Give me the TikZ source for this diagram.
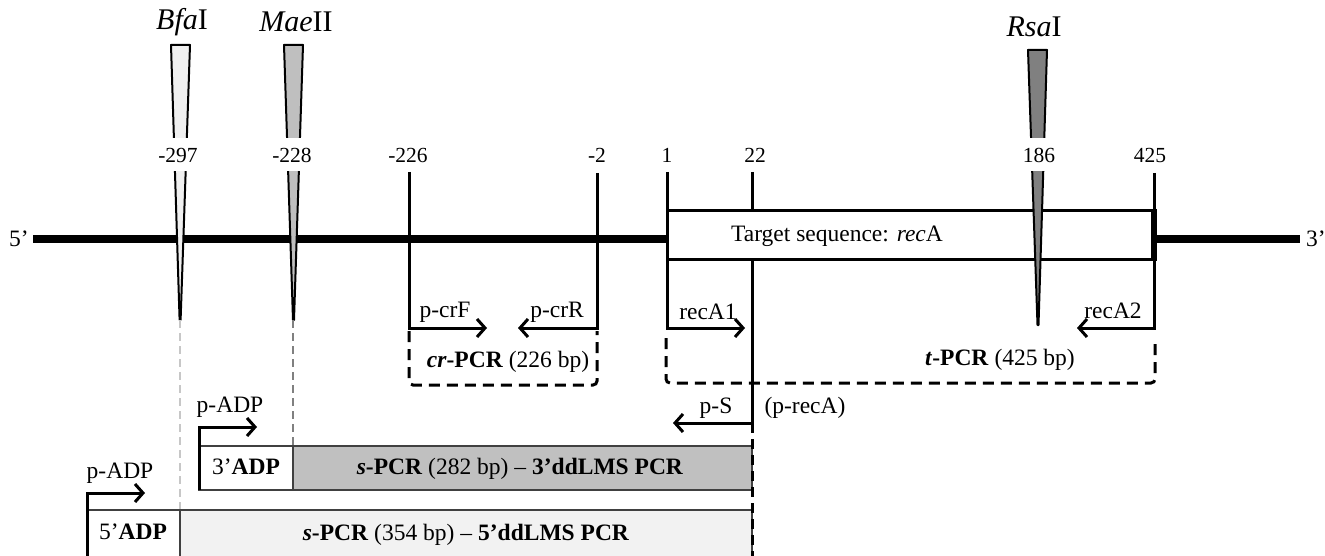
\documentclass[tikz,border=0pt]{standalone}
\usepackage{fontspec}
\setmainfont{Liberation Serif}
\usetikzlibrary{arrows.meta}
\definecolor{bfa}{HTML}{F0F0F0}
\definecolor{mae}{HTML}{BFBFBF}
\definecolor{rsa}{HTML}{808080}
\definecolor{spcrA}{HTML}{C0C0C0}
\definecolor{spcrB}{HTML}{F2F2F2}
\definecolor{boxline}{HTML}{404040}
\begin{document}
\begin{tikzpicture}[x=1pt,y=-1pt,
 dna/.style={line width=8pt},
 tick/.style={line width=3pt},
 wedge/.style={line width=2pt, line join=round},
 prim/.style={line width=3pt, -{Straight Barb[length=8pt,width=18pt]}},
 pcrbox/.style={line width=3pt, dash pattern=on 11pt off 7pt, rounded corners=4pt},
 lbl/.style={font=\fontsize{23.5}{26}\selectfont, inner sep=0pt},
 num/.style={font=\fontsize{21.5}{24}\selectfont, fill=white, inner xsep=2pt, inner ysep=0pt, minimum height=33pt},
 enz/.style={font=\fontsize{30}{33}\selectfont, inner sep=0pt},
 sbox/.style={draw=boxline, line width=1.5pt},
 guide/.style={line width=2pt, dash pattern=on 8pt off 5pt},
]
\useasboundingbox (0,0) rectangle (1325,556);

% DNA strand
\coordinate (d5) at (33,239);
\coordinate (d3) at (1300,239);
\draw[dna] (d5) -- (d3);
\node[lbl, anchor=east] (five) at (29,239) {5’};
\node[lbl, anchor=west] (three) at (1306,239) {3’};

% position ticks with primers
\coordinate (t226) at (409,172);
\coordinate (t2) at (597,173);
\coordinate (t1) at (667,172);
\coordinate (t22) at (752,172);
\coordinate (t425) at (1154,173);
\coordinate (crFend) at (487,328);
\coordinate (crRend) at (518,328);
\coordinate (rA1end) at (745,328);
\coordinate (rA2end) at (1077,328);
\coordinate (pSend) at (673,423);
\draw[prim] (t226) -- (409,328) -- (crFend);
\draw[prim] (t2) -- (597,328) -- (crRend);
\draw[prim] (t1) -- (667,328) -- (rA1end);
\draw[prim] (t425) -- (1154,328) -- (rA2end);
\draw[prim] (t22) -- (752,423) -- (pSend);

% target box
\draw[line width=3pt, fill=white] (667,211) rectangle (1154,259);
\draw[line width=6pt] (1154,209) -- (1154,261);
\node[lbl] (tgt) at (837,236) {Target sequence: \textit{rec}A};

% restriction sites
\draw[wedge, fill=bfa] (171,45) -- (190,45) -- (180.6,320) -- (179.6,320) -- cycle;
\draw[wedge, fill=mae] (284,45) -- (303,45) -- (294,320) -- (293,320) -- cycle;
\draw[wedge, fill=rsa] (1028,50) -- (1047,50) -- (1038.5,325) -- (1037.5,325) -- cycle;
\node[enz] (bfaI) at (182,22) {\textit{Bfa}I};
\node[enz] (maeII) at (296,22) {\textit{Mae}II};
\node[enz] (rsaI) at (1034,27) {\textit{Rsa}I};

% numbers
\node[num] (n297) at (178,155) {-297};
\node[num] (n228) at (292,155) {-228};
\node[num] (n226) at (408,155) {-226};
\node[num] (n2) at (597,155) {-2};
\node[num] (n1) at (667,155) {1};
\node[num] (n22) at (755,155) {22};
\node[num] (n186) at (1039,155) {186};
\node[num] (n425) at (1150,155) {425};

% primer labels
\node[lbl] (pcrF) at (445,312) {p-crF};
\node[lbl] (pcrR) at (557,312) {p-crR};
\node[lbl] (recA1) at (708,312) {recA1};
\node[lbl] (recA2) at (1113,311) {recA2};
\node[lbl] (pS) at (716,408) {p-S};
\node[lbl] (precA) at (805,408) {(p-recA)};

% PCR products
\draw[pcrbox] (409,331) -- (409,385) -- (597,385) -- (597,331);
\node[lbl] (crpcr) at (508,362) {\textbf{\textit{cr}-PCR} (226 bp)};
\draw[pcrbox] (666,338) -- (666,383) -- (1155,383) -- (1155,338);
\node[lbl] (tpcr) at (1000,360) {\textbf{\textit{t}-PCR} (425 bp)};

% guides from restriction sites
\draw[guide, color=black!22] (180,320) -- (180,510);
\draw[guide, color=black!50] (293,320) -- (293,446);

% s-PCR boxes
\draw[sbox, fill=white] (199,446) rectangle (293,490);
\draw[sbox, fill=spcrA] (293,446) rectangle (752,490);
\node[lbl] (adp3) at (246,467) {3’\textbf{ADP}};
\node[lbl] (s3) at (520,469) {\textbf{\textit{s}-PCR} (282 bp) – \textbf{3’ddLMS PCR}};
\draw[sbox, fill=white] (87,510) rectangle (180,562);
\draw[sbox, fill=spcrB] (180,510) rectangle (752,562);
\node[lbl] (adp5) at (133,532) {5’\textbf{ADP}};
\node[lbl] (s5) at (466,535) {\textbf{\textit{s}-PCR} (354 bp) – \textbf{5’ddLMS PCR}};

% adapter primers
\coordinate (adpA) at (257,427);
\coordinate (adpB) at (145,493);
\draw[prim] (199,490) -- (199,427) -- (adpA);
\draw[prim] (87,562) -- (87,493) -- (adpB);
\node[lbl] (padp3) at (230,407) {p-ADP};
\node[lbl] (padp5) at (120,473) {p-ADP};

% continuation of 22 line
\draw[line width=3pt, dash pattern=on 10pt off 6pt] (752,423) -- (752,562);
\end{tikzpicture}
\end{document}
